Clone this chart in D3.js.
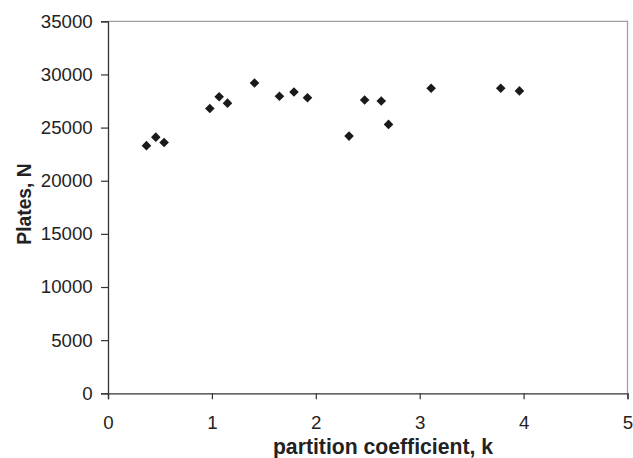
<!DOCTYPE html>
<html>
<head>
<meta charset="utf-8">
<script src="https://cdn.jsdelivr.net/npm/d3@7"></script>
<style>
    body { margin: 0; background: #fff; }
    svg { font-family: "Liberation Sans", Arial, sans-serif; }
</style>
</head>
<body>
<div id="chart"></div>
<script>
"use strict";

// partition coefficient k, plates N
const kValues = [0.37, 0.46, 0.54, 0.98, 1.07, 1.15, 1.41, 1.65, 1.79, 1.92, 2.32, 2.47, 2.63, 2.70, 3.11, 3.78, 3.96];
const plates  = [23300, 24100, 23600, 26800, 27900, 27300, 29200, 27950, 28350, 27800, 24200, 27600, 27500, 25300, 28700, 28700, 28450];
const xTicks = [0, 1, 2, 3, 4, 5];
const yTicks = [0, 5000, 10000, 15000, 20000, 25000, 30000, 35000];

const width = 633, height = 458;
const margin = { left: 108, right: 5.5, top: 21.3, bottom: 64.7 };

const svg = d3.select("#chart").append("svg")
    .attr("width", width)
    .attr("height", height);

const x = d3.scaleLinear().domain([0, 5]).range([margin.left, width - margin.right]);
const y = d3.scaleLinear().domain([0, 35000]).range([height - margin.bottom, margin.top]);

// frame: top and right in grey
svg.append("path")
    .attr("d", "M" + x(0) + "," + y(35000) + "H" + x(5) + "V" + y(0))
    .attr("fill", "none")
    .attr("stroke", "#a0a0a0")
    .attr("stroke-width", 1.3);

const xAxis = svg.append("g")
    .attr("transform", "translate(0," + y(0) + ")")
    .call(d3.axisBottom(x).tickValues(xTicks).tickSize(6).tickPadding(16).tickFormat(d3.format("d")));

const yAxis = svg.append("g")
    .attr("transform", "translate(" + x(0) + ",0)")
    .call(d3.axisLeft(y).tickValues(yTicks).tickSize(7).tickPadding(8.3).tickFormat(d3.format("d")));

[xAxis, yAxis].forEach(a => {
    a.select(".domain").attr("stroke", "#333").attr("stroke-width", 1.3);
    a.selectAll(".tick line").attr("stroke", "#333").attr("stroke-width", 1.2);
    a.selectAll(".tick text")
        .attr("fill", "#222")
        .style("font-size", "18.7px")
        .style("font-family", "Liberation Sans, Arial, sans-serif");
});

// points, drawn as diamonds
const points = kValues.map((k, i) => ({ k: k, n: plates[i] }));
const diamond = d3.symbol().type(d3.symbolSquare).size(46);
svg.append("g").selectAll("path")
    .data(points)
    .enter()
    .append("path")
    .attr("d", diamond)
    .attr("transform", d => "translate(" + x(d.k) + "," + y(d.n) + ") rotate(45)")
    .attr("fill", "#1a1a1a");

// axis titles
svg.append("text")
    .attr("x", 383)
    .attr("y", 454.3)
    .attr("text-anchor", "middle")
    .style("font-size", "21.2px")
    .style("font-weight", "bold")
    .attr("fill", "#222")
    .text("partition coefficient, k");

svg.append("text")
    .attr("transform", "translate(31,204) rotate(-90)")
    .attr("text-anchor", "middle")
    .style("font-size", "19.3px")
    .style("font-weight", "bold")
    .attr("fill", "#222")
    .text("Plates, N");
</script>
</body>
</html>
